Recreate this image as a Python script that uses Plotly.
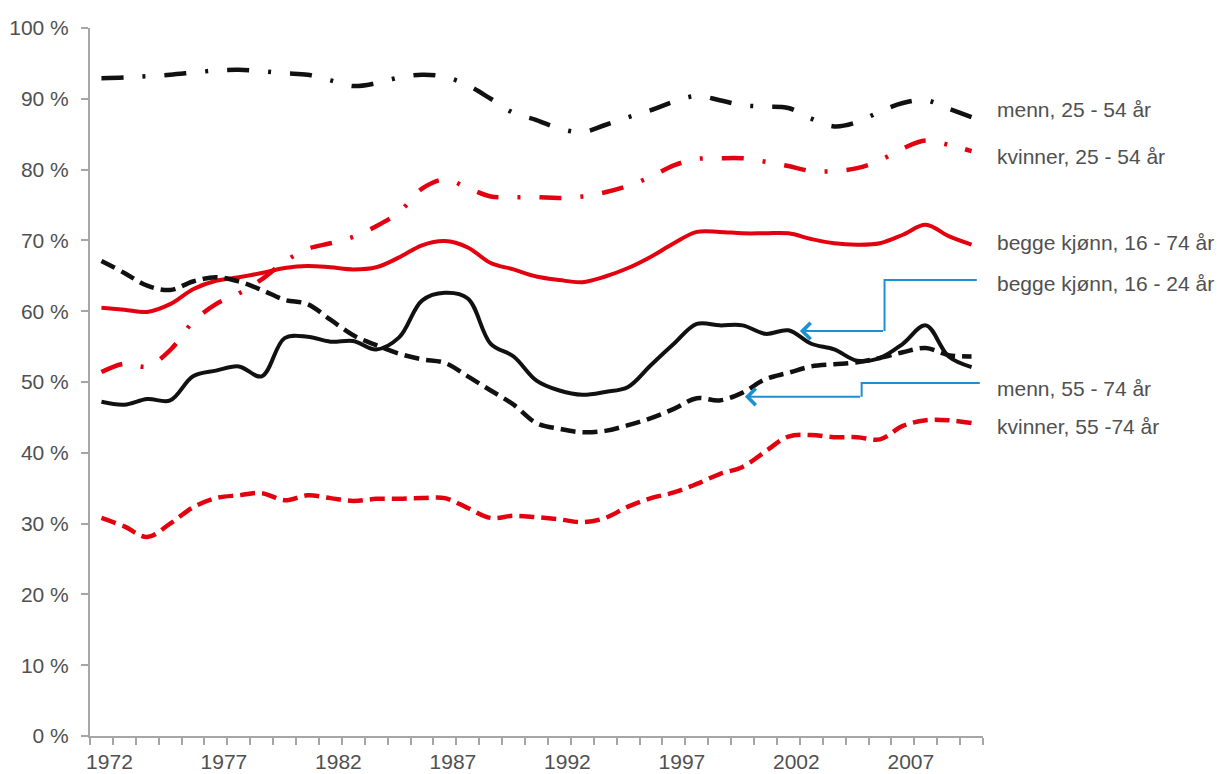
import plotly.graph_objects as go

years = list(range(1972, 2011))

menn_25_54 = [92.9, 93.0, 93.2, 93.4, 93.7, 94.0, 94.1, 93.9, 93.6, 93.4,
              92.6, 91.8, 92.2, 93.0, 93.4, 93.1, 91.9, 90.0, 88.0, 87.0,
              85.8, 85.3, 86.3, 87.4, 88.4, 89.6, 90.4, 89.8, 89.1, 88.9,
              88.7, 87.2, 86.1, 86.7, 88.2, 89.4, 89.8, 88.6, 87.4]

kvinner_25_54 = [51.4, 52.6, 52.2, 54.5, 58.5, 61.0, 62.5, 64.5, 67.0, 68.8,
                 69.6, 70.5, 72.0, 74.0, 77.3, 78.6, 77.4, 76.2, 76.1, 76.1,
                 76.0, 76.2, 76.8, 77.7, 79.0, 80.6, 81.5, 81.6, 81.6, 81.1,
                 80.5, 79.8, 79.8, 80.2, 81.3, 83.0, 84.1, 83.5, 82.6]

begge_16_74 = [60.5, 60.2, 59.9, 61.0, 63.1, 64.3, 64.8, 65.4, 66.1, 66.4,
               66.2, 65.9, 66.2, 67.6, 69.3, 69.9, 69.0, 66.8, 65.9, 64.9,
               64.4, 64.1, 64.9, 66.1, 67.7, 69.6, 71.2, 71.2, 71.0, 71.0,
               71.0, 70.2, 69.6, 69.4, 69.6, 70.8, 72.2, 70.6, 69.4]

begge_16_24 = [47.2, 46.8, 47.6, 47.4, 50.8, 51.6, 52.2, 50.8, 56.2, 56.4,
               55.7, 55.8, 54.6, 56.3, 61.5, 62.6, 61.8, 55.4, 53.6, 50.2,
               48.8, 48.2, 48.6, 49.3, 52.4, 55.4, 58.2, 58.0, 58.0, 56.8,
               57.3, 55.4, 54.6, 53.0, 53.4, 55.4, 58.0, 53.6, 52.1]

menn_55_74 = [67.1, 65.4, 63.6, 63.0, 64.2, 64.8, 64.2, 63.0, 61.6, 61.0,
              58.8, 56.6, 55.2, 54.0, 53.2, 52.7, 50.8, 48.8, 46.8, 44.2,
              43.4, 42.9, 43.1, 43.9, 44.9, 46.2, 47.7, 47.4, 48.5, 50.4,
              51.3, 52.2, 52.5, 52.8, 53.4, 54.2, 54.8, 53.8, 53.6]

kvinner_55_74 = [30.8, 29.6, 28.1, 30.0, 32.3, 33.6, 34.0, 34.3, 33.3, 34.0,
                 33.6, 33.2, 33.5, 33.5, 33.6, 33.6, 32.2, 30.8, 31.1, 30.9,
                 30.6, 30.2, 30.8, 32.4, 33.6, 34.4, 35.6, 37.0, 38.0, 40.2,
                 42.3, 42.5, 42.2, 42.2, 41.9, 43.8, 44.6, 44.6, 44.2]

series_names = ["menn, 25 - 54 år", "kvinner, 25 - 54 år", "begge kjønn, 16 - 74 år",
                "begge kjønn, 16 - 24 år", "menn, 55 - 74 år", "kvinner, 55 -74 år"]
label_y_px = [110, 157, 242, 283, 388, 426]

x_tick_years = [1972, 1977, 1982, 1987, 1992, 1997, 2002, 2007]
y_tick_vals = list(range(0, 101, 10))
y_tick_text = [f"{v} %" for v in y_tick_vals]

RED = "#E3000F"
BLACK = "#111111"
BLUE = "#1E90D2"
GREY_AX = "#A6A6A6"
TXT = "#505050"
FONT = "Liberation Sans, Arial, sans-serif"
FSIZE = 21

DASHDOT = "22px,19px,3px,19px"
DASHED = "15px,7px"

styles = [
    (menn_25_54, BLACK, DASHDOT, 4.5),
    (kvinner_25_54, RED, DASHDOT, 4.5),
    (begge_16_74, RED, "solid", 4),
    (begge_16_24, BLACK, "solid", 4),
    (menn_55_74, BLACK, DASHED, 4.5),
    (kvinner_55_74, RED, DASHED, 4.5),
]

fig = go.Figure()
for (vals, col, dash, w), name in zip(styles, series_names):
    fig.add_trace(go.Scatter(
        x=years, y=vals, mode="lines", name=name,
        line=dict(color=col, width=w, dash=dash, shape="spline", smoothing=1),
        hoverinfo="skip",
    ))

PLOT_TOP, PLOT_BOTTOM = 28, 736
PLOT_H = PLOT_BOTTOM - PLOT_TOP

annotations = []
for name, py in zip(series_names, label_y_px):
    annotations.append(dict(
        text=name, xref="paper", yref="paper",
        x=1.0134, y=(PLOT_BOTTOM - py) / PLOT_H,
        xanchor="left", yanchor="middle", showarrow=False,
        font=dict(family=FONT, size=FSIZE, color=TXT),
    ))

callouts = [
    (2010.23, 64.4, 2006.2, 57.2, 2002.5),
    (2010.36, 49.86, 2005.2, 47.9, 2000.1),
]
shapes = []
for rx, ty, bx, ly, tx in callouts:
    shapes.append(dict(
        type="path", xref="x", yref="y",
        path=f"M {rx},{ty} L {bx},{ty} L {bx},{ly}",
        line=dict(color=BLUE, width=2),
    ))
    annotations.append(dict(
        x=tx, y=ly, ax=bx, ay=ly, xref="x", yref="y", axref="x", ayref="y",
        text="", showarrow=True, arrowhead=4, arrowsize=1.6, arrowwidth=2,
        arrowcolor=BLUE, standoff=0,
    ))

fig.update_layout(
    width=1226, height=774,
    margin=dict(l=90, r=243, t=28, b=38),
    paper_bgcolor="white", plot_bgcolor="white",
    showlegend=False,
    font=dict(family=FONT, size=FSIZE, color=TXT),
    annotations=annotations,
    shapes=shapes,
    xaxis=dict(
        range=[1971.5, 2010.5], automargin=False,
        tickmode="array", tickvals=x_tick_years,
        ticktext=[str(y) for y in x_tick_years],
        ticks="", showgrid=False, zeroline=False,
        showline=True, linecolor=GREY_AX, linewidth=2,
        tickfont=dict(family=FONT, size=FSIZE, color=TXT),
        ticklabelshift=8, ticklabelstandoff=6,
        minor=dict(tick0=1971.5, dtick=1, ticks="outside", ticklen=7,
                   tickcolor=GREY_AX, tickwidth=2, showgrid=False),
    ),
    yaxis=dict(
        range=[0, 100], automargin=False,
        tickmode="array", tickvals=y_tick_vals, ticktext=y_tick_text,
        ticks="outside", ticklen=7, tickcolor=GREY_AX, tickwidth=2,
        showgrid=False, zeroline=False,
        showline=True, linecolor=GREY_AX, linewidth=2,
        tickfont=dict(family=FONT, size=FSIZE, color=TXT),
        ticklabelstandoff=8,
    ),
)

fig.write_html(
    "out.html",
    config={"displayModeBar": False},
    post_script="document.body.style.margin='0';document.body.style.overflow='hidden';",
)
